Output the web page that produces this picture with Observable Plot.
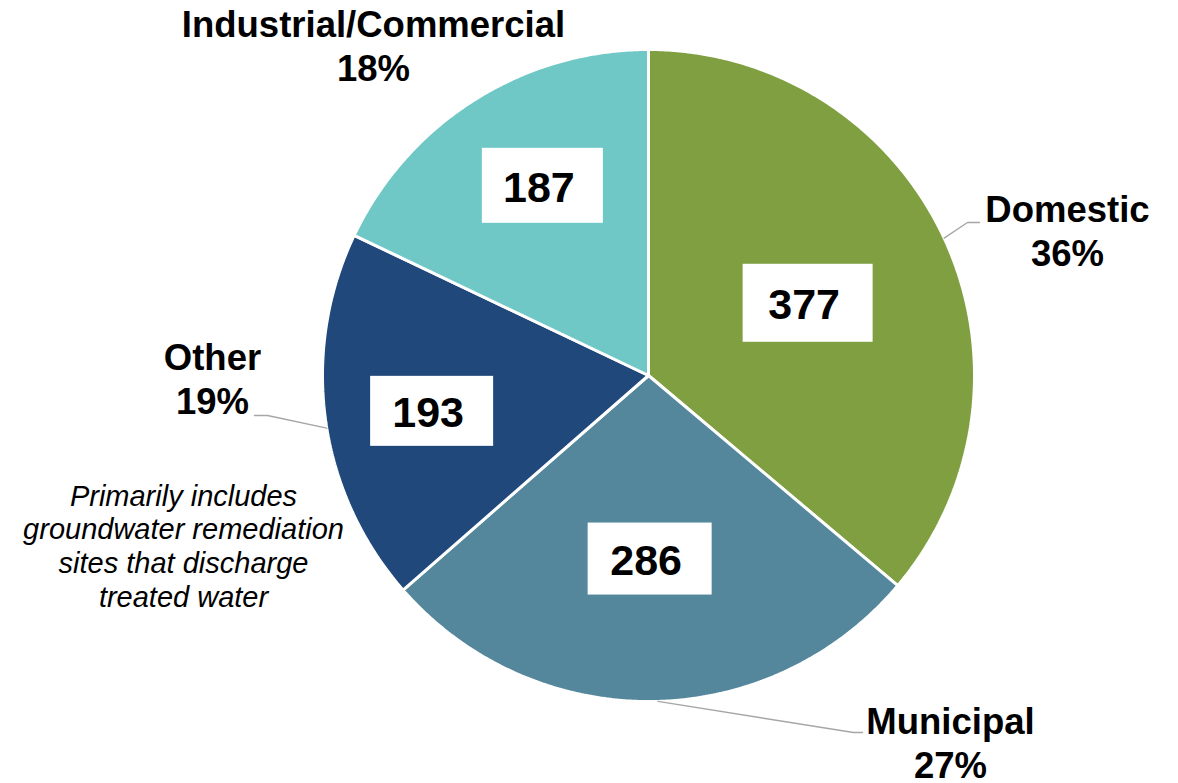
<!DOCTYPE html>
<html>
<head>
<meta charset="utf-8">
<script src="https://cdn.jsdelivr.net/npm/d3@7"></script>
<script src="https://cdn.jsdelivr.net/npm/@observablehq/plot@0.6"></script>
<style>
  html, body { margin: 0; padding: 0; background: #ffffff; }
  #chart { width: 1178px; height: 783px; }
</style>
</head>
<body>
<div id="chart"></div>
<script>
// ---- data ----
const categories = ["Domestic", "Municipal", "Other", "Industrial/Commercial"];
const counts = [377, 286, 193, 187];
const percents = ["36%", "27%", "19%", "18%"];
const colors = ["#7F9F41", "#54879B", "#21487A", "#70C8C6"];
const noteLines = ["Primarily includes", "groundwater remediation", "sites that discharge", "treated water"];

// ---- layout ----
const W = 1178, H = 783;
const cx = 648, cy = 375, R = 326;
const valueRadius = [0.54, 0.56, 0.67, 0.67];
const valueShift = [[0, 2], [0, 1], [0, 6], [11, -5]];
const boxSize = [[130, 78], [124, 72], [123, 70], [121, 75]];
const nameAnchor = [[1067, 265], [950, 777], [212, 413], [373, 80]];
const leaderBend = [[[967, 222], [979, 222]], [[853, 732], [862, 732]], [[267, 415], [254, 415]], null];
const leaderAngleShift = [0, -0.02, -0.025, 0];
const FONT = "'Liberation Sans', Arial, Helvetica, sans-serif";

const pie = d3.pie().sort(null).value(d => d.count);
const rows = categories.map((name, i) => ({name, count: counts[i], pct: percents[i], i}));
const arcs = pie(rows);

const pt = (a, r) => [cx + r * Math.sin(a), cy - r * Math.cos(a)];

// slice polygons
const slicePts = [];
arcs.forEach(a => {
  const name = a.data.name;
  slicePts.push({name, x: cx, y: cy});
  const steps = Math.max(2, Math.ceil((a.endAngle - a.startAngle) / (Math.PI / 360)));
  for (let k = 0; k <= steps; k++) {
    const ang = a.startAngle + (a.endAngle - a.startAngle) * k / steps;
    const [x, y] = pt(ang, R);
    slicePts.push({name, x, y});
  }
});

// value boxes
const valueLabels = arcs.map(a => {
  const i = a.data.i;
  const mid = (a.startAngle + a.endAngle) / 2;
  const [x, y] = pt(mid, R * valueRadius[i]);
  return {x: x + valueShift[i][0], y: y + valueShift[i][1], w: boxSize[i][0], h: boxSize[i][1], text: String(a.data.count)};
});

// leader lines
const leaderPts = [];
arcs.forEach(a => {
  const i = a.data.i;
  const bend = leaderBend[i];
  if (!bend) return;
  const mid = (a.startAngle + a.endAngle) / 2 + leaderAngleShift[i];
  const [x0, y0] = pt(mid, R);
  leaderPts.push({k: a.data.name, x: x0, y: y0});
  bend.forEach(([x, y]) => leaderPts.push({k: a.data.name, x, y}));
});

// category labels
const nameLabels = rows.map(r => ({x: nameAnchor[r.i][0], y: nameAnchor[r.i][1], text: r.name + "\n" + r.pct}));

const chart = Plot.plot({
  width: W,
  height: H,
  margin: 0,
  x: {domain: [0, W], range: [0, W], axis: null},
  y: {domain: [0, H], range: [0, H], axis: null},
  color: {domain: categories, range: colors},
  style: {fontFamily: FONT, background: "#ffffff", overflow: "visible"},
  marks: [
    Plot.line(slicePts, {x: "x", y: "y", z: "name", fill: "name", stroke: "white", strokeWidth: 3, strokeLinejoin: "miter", curve: "linear-closed"}),
    Plot.line(leaderPts, {x: "x", y: "y", z: "k", stroke: "#A6A6A6", strokeWidth: 1.4}),
    Plot.rect(valueLabels, {x1: d => d.x - d.w / 2, x2: d => d.x + d.w / 2, y1: d => d.y - d.h / 2, y2: d => d.y + d.h / 2, fill: "white"}),
    Plot.text(valueLabels, {x: "x", y: "y", text: "text", fontSize: 43, fontWeight: "bold", fill: "black", dx: -4, dy: 2, lineAnchor: "middle", textAnchor: "middle"}),
    Plot.text(nameLabels, {x: "x", y: "y", text: "text", fontSize: 36.5, fontWeight: "bold", fill: "black", lineAnchor: "bottom", lineHeight: 1.2, textAnchor: "middle"}),
    Plot.text([noteLines.join("\n")], {x: () => 183, y: () => 606, text: d => d, fontSize: 29, fontStyle: "italic", fill: "black", lineAnchor: "bottom", lineHeight: 1.16, textAnchor: "middle"})
  ]
});
document.getElementById("chart").appendChild(chart);
</script>
</body>
</html>
